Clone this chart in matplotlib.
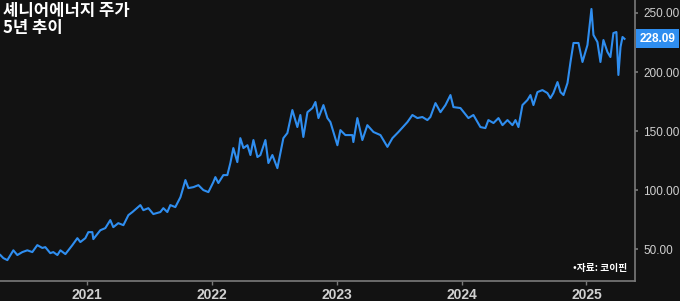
import matplotlib
matplotlib.use('Agg')
import matplotlib.pyplot as plt

plt.rcParams['font.family'] = ['Noto Sans CJK KR', 'DejaVu Sans']

# 셰니어에너지 주가 (연도 소수 표기, 달러)
years = [2020.303, 2020.327, 2020.359, 2020.407, 2020.439, 2020.479, 2020.519, 2020.559,
         2020.599, 2020.639, 2020.663, 2020.703, 2020.727, 2020.760, 2020.784, 2020.824,
         2020.880, 2020.920, 2020.944, 2020.984, 2021.008, 2021.040, 2021.048, 2021.104,
         2021.144, 2021.184, 2021.208, 2021.248, 2021.289, 2021.329, 2021.361, 2021.425,
         2021.449, 2021.489, 2021.529, 2021.585, 2021.609, 2021.641, 2021.665, 2021.705,
         2021.746, 2021.786, 2021.810, 2021.850, 2021.890, 2021.930, 2021.970, 2022.010,
         2022.026, 2022.050, 2022.090, 2022.122, 2022.146, 2022.170, 2022.202, 2022.226,
         2022.251, 2022.283, 2022.307, 2022.331, 2022.363, 2022.387, 2022.427, 2022.451,
         2022.483, 2022.523, 2022.547, 2022.571, 2022.603, 2022.643, 2022.683, 2022.707,
         2022.731, 2022.764, 2022.804, 2022.828, 2022.852, 2022.892, 2022.924, 2022.948,
         2023.004, 2023.028, 2023.068, 2023.124, 2023.132, 2023.164, 2023.204, 2023.244,
         2023.293, 2023.349, 2023.405, 2023.445, 2023.493, 2023.565, 2023.605, 2023.645,
         2023.685, 2023.725, 2023.749, 2023.790, 2023.830, 2023.870, 2023.910, 2023.934,
         2023.990, 2024.054, 2024.094, 2024.150, 2024.190, 2024.214, 2024.255, 2024.295,
         2024.327, 2024.367, 2024.407, 2024.431, 2024.455, 2024.487, 2024.527, 2024.551,
         2024.575, 2024.607, 2024.647, 2024.687, 2024.711, 2024.735, 2024.768, 2024.792,
         2024.816, 2024.848, 2024.872, 2024.896, 2024.936, 2024.968, 2025.008, 2025.040,
         2025.056, 2025.088, 2025.112, 2025.136, 2025.168, 2025.192, 2025.216, 2025.240,
         2025.256, 2025.273, 2025.289, 2025.305]
prices = [45.0, 42.4, 40.7, 49.0, 45.0, 47.5, 49.0, 47.5,
          53.4, 51.0, 51.7, 46.6, 47.5, 45.0, 49.0, 45.8,
          53.4, 59.3, 56.0, 59.3, 64.4, 64.4, 58.5, 66.0,
          67.8, 74.6, 68.6, 72.0, 70.3, 78.8, 81.4, 87.3,
          83.0, 84.7, 79.7, 81.4, 84.7, 81.4, 87.3, 85.6,
          94.0, 108.5, 101.7, 102.5, 104.2, 100.0, 98.3, 106.8,
          111.0, 106.0, 112.7, 112.7, 122.9, 135.6, 123.7, 144.0,
          135.6, 138.0, 129.7, 142.4, 128.0, 129.7, 142.4, 122.9,
          129.7, 118.6, 131.4, 144.0, 148.3, 167.8, 153.4, 163.6,
          145.0, 166.0, 169.5, 174.6, 161.0, 172.0, 161.0, 157.6,
          138.0, 150.8, 146.6, 146.6, 140.7, 161.0, 142.4, 155.0,
          149.2, 146.6, 136.6, 144.0, 149.2, 157.6, 163.6, 161.0,
          161.9, 159.3, 161.9, 173.7, 166.0, 172.0, 180.5, 170.3,
          169.5, 161.0, 163.6, 153.4, 152.5, 159.3, 156.8, 161.0,
          155.0, 159.3, 155.0, 159.3, 153.4, 172.0, 176.3, 180.5,
          172.0, 183.0, 184.7, 182.2, 177.9, 182.2, 191.5, 183.0,
          180.5, 190.7, 208.5, 224.6, 224.6, 208.5, 222.9, 253.4,
          231.4, 225.4, 208.5, 227.1, 217.0, 212.7, 233.0, 233.9,
          197.5, 221.2, 229.7, 228.09]

year_ticks = [2021, 2022, 2023, 2024, 2025]
price_ticks = [50, 100, 150, 200, 250]
last_price = prices[-1]

bg = '#121212'
line_color = '#2f8ef0'
axis_color = '#7a7a7a'
label_color = '#d0d0d0'
num_font = 'Liberation Sans'

fig = plt.figure(figsize=(6.8, 3.01), dpi=100, facecolor=bg)
ax = fig.add_axes([0.0, 0.0664, 0.934, 0.9336], facecolor=bg)

ax.plot(years, prices, color=line_color, lw=1.5, solid_joinstyle='round')

ax.set_xlim(2020.30, 2025.39)
ax.set_ylim(23, 261)

ax.set_xticks(year_ticks)
ax.set_xticklabels([str(y) for y in year_ticks], fontsize=10, fontweight='bold',
                   color=label_color, family=num_font)
ax.yaxis.tick_right()
ax.set_yticks(price_ticks)
ax.set_yticklabels([f'{p:.2f}' for p in price_ticks], fontsize=8.5,
                   color=label_color, family=num_font)
ax.tick_params(axis='x', length=3, width=1, color=axis_color, pad=2)
ax.tick_params(axis='y', length=2, width=1.2, color=axis_color, pad=4)

for side in ['top', 'left']:
    ax.spines[side].set_visible(False)
for side in ['bottom', 'right']:
    ax.spines[side].set_color(axis_color)
    ax.spines[side].set_linewidth(1.2)

# 현재가 라벨
ax.annotate(f'{last_price:.2f}', xy=(1.0, last_price), xycoords=('axes fraction', 'data'),
            xytext=(3.5, 0), textcoords='offset points', ha='left', va='center',
            fontsize=8.5, fontweight='bold', color='white', family=num_font,
            annotation_clip=False,
            bbox=dict(boxstyle='square,pad=0.3', fc=line_color, ec='none'))

fig.text(0.004, 0.995, '셰니어에너지 주가\n5년 추이', ha='left', va='top',
         fontsize=12, fontweight='bold', color='white', linespacing=0.95)
ax.text(0.988, 0.045, '•자료: 코이핀', transform=ax.transAxes, ha='right', va='center',
        fontsize=7, fontweight='bold', color='white')

fig.savefig('out.png', dpi=100, facecolor=bg)
